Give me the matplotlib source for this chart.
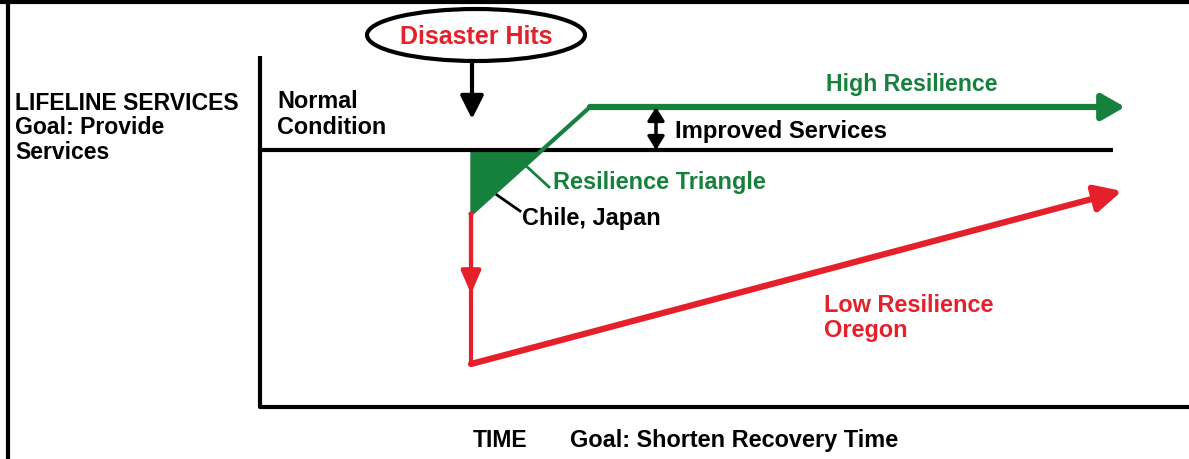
import matplotlib
matplotlib.use("Agg")
from matplotlib import pyplot as plt
from matplotlib.patches import Ellipse, Polygon, FancyArrowPatch

# diagram data, in picture units (time to the right, service level downward)
axis_t = [260, 260, 1189]
axis_level = [57, 408, 408]
normal_t = [260, 1113]
normal_level = [151, 151]
t_disaster = 471
high_t = [471, 590, 1125]
high_level = [215, 108, 108]
low_t = [471, 471, 1122]
low_level = [215, 365, 192]
triangle_t = [471, 471, 541]
triangle_level = [151, 215, 151]

green = "#16803d"
red = "#e5202b"
fam = ["Liberation Sans", "DejaVu Sans"]

fig = plt.figure(figsize=(11.89, 4.6), dpi=100)
ax = fig.add_axes([0, 0, 1, 1])
ax.set_xlim(0, 1189)
ax.set_ylim(460, 0)
ax.axis("off")

# frame pieces
ax.plot([0, 1189], [3, 3], color="black", lw=3)
ax.plot([8, 8], [3, 460], color="black", lw=3)

# axes
ax.plot(axis_t, axis_level, color="black", lw=3, solid_capstyle="butt")
ax.plot(normal_t, normal_level, color="black", lw=3, solid_capstyle="butt")

# resilience triangle
ax.add_patch(Polygon(list(zip(triangle_t, triangle_level)), closed=True,
                     facecolor=green, edgecolor=green, lw=1))

# high resilience path
ax.plot(high_t[:2], high_level[:2], color=green, lw=3)
ax.add_patch(FancyArrowPatch((high_t[1], high_level[1]), (high_t[2], high_level[2]),
                             arrowstyle="-|>,head_length=14,head_width=8",
                             color=green, lw=4.5, shrinkA=0, shrinkB=0))

# low resilience path
ax.plot(low_t[:2], low_level[:2], color=red, lw=3)
mid = (low_level[0] + low_level[1]) / 2 + 5
ax.add_patch(FancyArrowPatch((low_t[0], low_level[0]), (low_t[0], mid),
                             arrowstyle="-|>,head_length=14,head_width=6",
                             color=red, lw=3, shrinkA=0, shrinkB=0))
ax.add_patch(FancyArrowPatch((low_t[1], low_level[1]), (low_t[2], low_level[2]),
                             arrowstyle="-|>,head_length=16,head_width=8",
                             color=red, lw=4.5, shrinkA=0, shrinkB=0))

# disaster hits
ax.add_patch(Ellipse((476, 36), 218, 52, facecolor="white", edgecolor="black", lw=3))
ax.text(476, 37, "Disaster Hits", color=red, fontsize=18, fontweight="bold",
        family=fam, ha="center", va="center")
ax.add_patch(FancyArrowPatch((t_disaster + 1, 63), (t_disaster + 1, 120),
                             arrowstyle="-|>,head_length=14,head_width=7",
                             color="black", lw=3, shrinkA=0, shrinkB=0))

# improved services double arrow
ax.add_patch(FancyArrowPatch((656, high_level[2]), (656, normal_level[0]),
                             arrowstyle="<|-|>,head_length=8,head_width=5",
                             color="black", lw=2.5, shrinkA=0, shrinkB=0))

# leader lines
ax.plot([524, 549], [165, 188], color=green, lw=2)
ax.plot([497, 520], [196, 212], color="black", lw=2)

# labels
kw = dict(fontweight="bold", family=fam, va="center")
ax.text(15, 103, "LIFELINE SERVICES", fontsize=16.6, **kw)
ax.text(15, 128, "Goal: Provide", fontsize=16.6, **kw)
ax.text(15, 153, "Services", fontsize=16.6, **kw)
ax.text(277, 102, "Normal", fontsize=16.8, **kw)
ax.text(277, 127, "Condition", fontsize=16.8, **kw)
ax.text(912, 84, "High Resilience", color=green, fontsize=16.7, ha="center", **kw)
ax.text(675, 132, "Improved Services", fontsize=17.2, **kw)
ax.text(553, 183, "Resilience Triangle", color=green, fontsize=16.9, **kw)
ax.text(522, 219, "Chile, Japan", fontsize=16.9, **kw)
ax.text(824, 306, "Low Resilience", color=red, fontsize=16.9, **kw)
ax.text(824, 331, "Oregon", color=red, fontsize=16.9, **kw)
ax.text(473, 441, "TIME", fontsize=16.5, **kw)
ax.text(570, 441, "Goal: Shorten Recovery Time", fontsize=16.9, **kw)

fig.savefig("out.png", dpi=100)
